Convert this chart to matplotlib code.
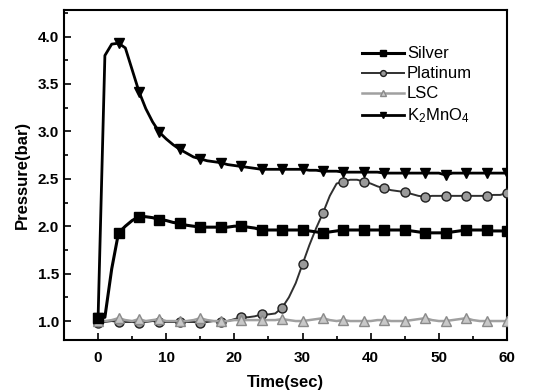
import matplotlib
matplotlib.use("Agg")
import matplotlib.pyplot as plt
from matplotlib.ticker import MultipleLocator

time_s = list(range(0, 61))

silver = [1.03, 1.04, 1.55, 1.93, 2.00, 2.06, 2.10, 2.10, 2.09, 2.07,
          2.06, 2.04, 2.03, 2.01, 2.00, 1.99, 1.99, 1.99, 1.99, 1.99,
          2.00, 2.00, 1.99, 1.98, 1.96, 1.96, 1.96, 1.96, 1.96, 1.96,
          1.96, 1.95, 1.94, 1.93, 1.94, 1.95, 1.96, 1.96, 1.96, 1.96,
          1.96, 1.96, 1.96, 1.96, 1.96, 1.96, 1.95, 1.94, 1.93, 1.93,
          1.93, 1.93, 1.94, 1.95, 1.96, 1.96, 1.96, 1.96, 1.95, 1.95,
          1.95]

platinum = [0.98, 0.99, 1.00, 0.99, 0.99, 0.99, 0.98, 0.99, 1.00, 0.99,
            0.99, 0.99, 0.99, 0.99, 0.99, 0.98, 0.99, 1.00, 0.99, 1.00,
            1.02, 1.04, 1.04, 1.05, 1.07, 1.07, 1.08, 1.14, 1.25, 1.40,
            1.60, 1.80, 1.98, 2.14, 2.32, 2.45, 2.47, 2.49, 2.49, 2.47,
            2.45, 2.42, 2.40, 2.38, 2.37, 2.36, 2.34, 2.32, 2.31, 2.32,
            2.32, 2.32, 2.32, 2.32, 2.32, 2.32, 2.32, 2.32, 2.33, 2.33,
            2.35]

lsc = [1.00, 1.00, 1.01, 1.03, 1.01, 1.00, 1.02, 1.00, 1.01, 1.02,
       1.00, 1.00, 1.00, 1.00, 1.01, 1.03, 1.01, 1.00, 1.00, 1.00,
       1.01, 1.01, 1.01, 1.01, 1.01, 1.01, 1.01, 1.02, 1.01, 1.00,
       1.00, 1.01, 1.02, 1.03, 1.01, 1.00, 1.01, 1.00, 1.00, 1.00,
       1.00, 1.01, 1.01, 1.00, 1.00, 1.00, 1.01, 1.02, 1.03, 1.01,
       1.00, 1.00, 1.01, 1.02, 1.03, 1.01, 1.00, 1.00, 1.00, 1.00,
       1.00]

k2mno4 = [1.03, 3.80, 3.92, 3.93, 3.88, 3.65, 3.42, 3.24, 3.10, 2.99,
          2.92, 2.86, 2.81, 2.77, 2.73, 2.71, 2.69, 2.68, 2.67, 2.65,
          2.64, 2.63, 2.62, 2.61, 2.60, 2.60, 2.60, 2.60, 2.60, 2.60,
          2.60, 2.59, 2.59, 2.58, 2.58, 2.58, 2.57, 2.57, 2.57, 2.57,
          2.57, 2.57, 2.56, 2.56, 2.56, 2.56, 2.56, 2.56, 2.56, 2.56,
          2.56, 2.54, 2.56, 2.56, 2.56, 2.56, 2.56, 2.56, 2.56, 2.56,
          2.56]

labels = ["Silver", "Platinum", "LSC", r"K$_2$MnO$_4$"]

plt.rcParams['font.family'] = ['Liberation Sans', 'DejaVu Sans']
plt.rcParams['mathtext.fontset'] = 'custom'
plt.rcParams['mathtext.rm'] = 'Liberation Sans'
plt.rcParams['mathtext.it'] = 'Liberation Sans'

fig = plt.figure(figsize=(5.33, 3.92), dpi=100)
ax = fig.add_axes([64/533, 1-340/392, (507-64)/533, (340-10)/392])

me = 3
l_pt, = ax.plot(time_s, platinum, color='#303030', lw=1.4, marker='o', ms=6.5,
                mfc='#9a9a9a', mec='#202020', markevery=me, zorder=3)
l_lsc, = ax.plot(time_s, lsc, color='#a0a0a0', lw=1.8, marker='^', ms=6.5,
                 mfc='#c8c8c8', mec='#8a8a8a', markevery=me, zorder=3.5)
l_ag, = ax.plot(time_s, silver, color='black', lw=2.2, marker='s', ms=6.5,
                mfc='black', mec='black', markevery=me, zorder=4)
l_k, = ax.plot(time_s, k2mno4, color='black', lw=2.0, marker='v', ms=7.5,
               mfc='black', mec='black', markevery=me, zorder=5)

ax.set_xlim(-5, 60)
ax.set_ylim(0.8, 4.28)
ax.xaxis.set_major_locator(MultipleLocator(10))
ax.xaxis.set_minor_locator(MultipleLocator(5))
ax.yaxis.set_major_locator(MultipleLocator(0.5))
ax.yaxis.set_minor_locator(MultipleLocator(0.25))
ax.set_xticks([0, 10, 20, 30, 40, 50, 60])
ax.tick_params(which='both', direction='in', width=1.2)
ax.tick_params(which='major', length=5, labelsize=11)
ax.tick_params(which='minor', length=3)
ax.tick_params(axis='x', pad=8)
for lab in ax.get_xticklabels() + ax.get_yticklabels():
    lab.set_fontweight('bold')
ax.yaxis.set_major_formatter(matplotlib.ticker.FormatStrFormatter('%.1f'))
for s in ax.spines.values():
    s.set_linewidth(1.5)

ax.set_xlabel('Time(sec)', fontsize=12, fontweight='bold', labelpad=7)
ax.set_ylabel('Pressure(bar)', fontsize=12, fontweight='bold', labelpad=6)

ax.legend([l_ag, l_pt, l_lsc, l_k], labels, loc='upper right',
          bbox_to_anchor=(0.94, 0.915), frameon=False, fontsize=12,
          handlelength=2.5, handletextpad=0.2, labelspacing=0.3,
          markerscale=0.65, borderpad=0)

fig.savefig('out.png', dpi=100)
